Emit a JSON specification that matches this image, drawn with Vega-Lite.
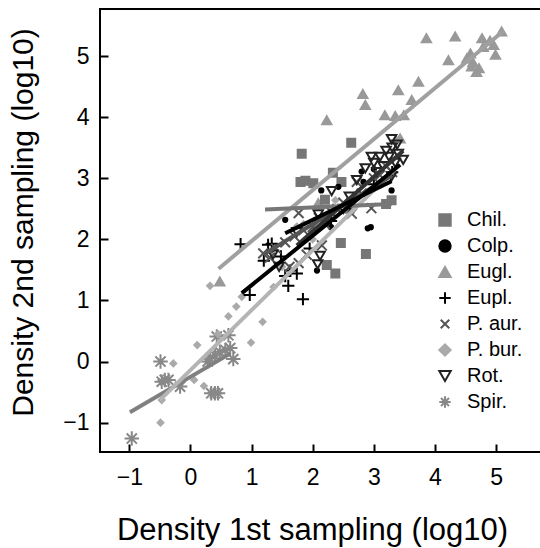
{
  "$schema": "https://vega.github.io/schema/vega-lite/v6.json",
  "autosize": "none",
  "width": 445,
  "height": 443,
  "padding": {"left": 100, "top": 9, "right": 0, "bottom": 96},
  "background": "white",
  "datasets": {
    "pts": [
      {"sp": "Spir.", "x": -0.96, "y": -1.26},
      {"sp": "Spir.", "x": -0.49, "y": 0.0},
      {"sp": "Spir.", "x": -0.47, "y": -0.33},
      {"sp": "Spir.", "x": -0.42, "y": -0.3},
      {"sp": "Spir.", "x": -0.36, "y": -0.3},
      {"sp": "Spir.", "x": -0.17, "y": -0.41},
      {"sp": "Spir.", "x": 0.34, "y": -0.52},
      {"sp": "Spir.", "x": 0.4, "y": -0.52},
      {"sp": "Spir.", "x": 0.45, "y": -0.52},
      {"sp": "Spir.", "x": 0.43, "y": 0.41},
      {"sp": "Spir.", "x": 0.62, "y": 0.43},
      {"sp": "Spir.", "x": 0.7, "y": 0.04},
      {"sp": "Spir.", "x": 0.32, "y": 0.05},
      {"sp": "Spir.", "x": 0.4, "y": 0.1},
      {"sp": "Spir.", "x": 0.48, "y": 0.16},
      {"sp": "Spir.", "x": 0.57, "y": 0.19},
      {"sp": "Spir.", "x": 0.65, "y": 0.22},
      {"sp": "Spir.", "x": 0.28, "y": 0.0},
      {"sp": "P. bur.", "x": -0.49, "y": -1.0},
      {"sp": "P. bur.", "x": -0.47, "y": -0.63},
      {"sp": "P. bur.", "x": -0.28, "y": -0.03},
      {"sp": "P. bur.", "x": 0.06, "y": -0.3},
      {"sp": "P. bur.", "x": 0.11, "y": 0.27},
      {"sp": "P. bur.", "x": 0.22, "y": -0.4},
      {"sp": "P. bur.", "x": 0.32, "y": 1.24},
      {"sp": "P. bur.", "x": 0.62, "y": 0.74},
      {"sp": "P. bur.", "x": 0.84, "y": 1.06},
      {"sp": "P. bur.", "x": 0.99, "y": 0.31},
      {"sp": "P. bur.", "x": 1.18, "y": 0.65},
      {"sp": "P. bur.", "x": 1.36, "y": 1.22},
      {"sp": "P. bur.", "x": 1.74, "y": 2.21},
      {"sp": "P. bur.", "x": 1.85, "y": 2.25},
      {"sp": "P. bur.", "x": 2.37, "y": 2.64},
      {"sp": "P. bur.", "x": 3.37, "y": 3.63},
      {"sp": "P. bur.", "x": 0.45, "y": 0.45},
      {"sp": "P. bur.", "x": 1.5, "y": 1.55},
      {"sp": "P. bur.", "x": 2.0, "y": 2.0},
      {"sp": "P. bur.", "x": 2.6, "y": 2.55},
      {"sp": "P. bur.", "x": 3.0, "y": 3.0},
      {"sp": "P. bur.", "x": 3.3, "y": 3.3},
      {"sp": "P. bur.", "x": 0.75, "y": 0.9},
      {"sp": "Eugl.", "x": 0.48, "y": 1.31},
      {"sp": "Eugl.", "x": 2.23, "y": 3.95},
      {"sp": "Eugl.", "x": 2.82, "y": 4.38},
      {"sp": "Eugl.", "x": 2.86, "y": 4.2},
      {"sp": "Eugl.", "x": 3.18, "y": 4.03},
      {"sp": "Eugl.", "x": 3.4, "y": 4.44},
      {"sp": "Eugl.", "x": 3.49, "y": 4.03},
      {"sp": "Eugl.", "x": 3.62, "y": 4.28},
      {"sp": "Eugl.", "x": 3.73, "y": 4.58},
      {"sp": "Eugl.", "x": 3.86, "y": 5.29},
      {"sp": "Eugl.", "x": 4.22, "y": 4.93},
      {"sp": "Eugl.", "x": 4.33, "y": 5.32},
      {"sp": "Eugl.", "x": 4.58, "y": 5.04},
      {"sp": "Eugl.", "x": 4.52, "y": 4.96},
      {"sp": "Eugl.", "x": 4.6, "y": 4.83},
      {"sp": "Eugl.", "x": 4.68, "y": 4.74},
      {"sp": "Eugl.", "x": 4.72, "y": 4.8},
      {"sp": "Eugl.", "x": 4.62, "y": 4.9},
      {"sp": "Eugl.", "x": 4.77, "y": 5.29},
      {"sp": "Eugl.", "x": 4.79, "y": 5.15},
      {"sp": "Eugl.", "x": 4.9, "y": 5.25},
      {"sp": "Eugl.", "x": 4.96, "y": 5.18},
      {"sp": "Eugl.", "x": 4.99, "y": 5.02},
      {"sp": "Eugl.", "x": 5.09, "y": 5.4},
      {"sp": "Eugl.", "x": 2.09, "y": 2.59},
      {"sp": "Eugl.", "x": 3.43, "y": 3.65},
      {"sp": "Eugl.", "x": 3.35, "y": 4.02},
      {"sp": "Chil.", "x": 1.82, "y": 3.4},
      {"sp": "Chil.", "x": 2.63, "y": 3.58},
      {"sp": "Chil.", "x": 1.8, "y": 2.94},
      {"sp": "Chil.", "x": 1.88, "y": 2.96},
      {"sp": "Chil.", "x": 2.01, "y": 2.92},
      {"sp": "Chil.", "x": 2.33, "y": 3.09},
      {"sp": "Chil.", "x": 2.47, "y": 2.94},
      {"sp": "Chil.", "x": 2.2, "y": 2.65},
      {"sp": "Chil.", "x": 3.29, "y": 2.64},
      {"sp": "Chil.", "x": 2.46, "y": 1.94},
      {"sp": "Chil.", "x": 2.87, "y": 1.76},
      {"sp": "Chil.", "x": 2.23, "y": 1.58},
      {"sp": "Chil.", "x": 2.37, "y": 1.44},
      {"sp": "Chil.", "x": 2.6, "y": 2.5},
      {"sp": "Chil.", "x": 3.2, "y": 2.58},
      {"sp": "Colp.", "x": 1.55, "y": 2.32},
      {"sp": "Colp.", "x": 2.14, "y": 2.8},
      {"sp": "Colp.", "x": 2.42, "y": 2.86},
      {"sp": "Colp.", "x": 3.29, "y": 2.8},
      {"sp": "Colp.", "x": 2.9, "y": 2.18},
      {"sp": "Colp.", "x": 2.95, "y": 2.2},
      {"sp": "Colp.", "x": 2.07, "y": 1.49},
      {"sp": "Colp.", "x": 2.83, "y": 2.94},
      {"sp": "Colp.", "x": 2.8, "y": 3.11},
      {"sp": "Colp.", "x": 2.6, "y": 2.55},
      {"sp": "Colp.", "x": 3.0, "y": 3.15},
      {"sp": "Colp.", "x": 2.3, "y": 2.2},
      {"sp": "Colp.", "x": 3.25, "y": 3.05},
      {"sp": "Eupl.", "x": 0.82, "y": 1.92},
      {"sp": "Eupl.", "x": 1.27, "y": 1.91},
      {"sp": "Eupl.", "x": 1.33, "y": 1.93},
      {"sp": "Eupl.", "x": 0.97, "y": 1.09},
      {"sp": "Eupl.", "x": 1.63, "y": 1.49},
      {"sp": "Eupl.", "x": 1.6, "y": 1.24},
      {"sp": "Eupl.", "x": 1.84, "y": 1.02},
      {"sp": "Eupl.", "x": 1.74, "y": 1.44},
      {"sp": "Eupl.", "x": 1.55, "y": 1.4},
      {"sp": "Eupl.", "x": 1.48, "y": 1.72},
      {"sp": "Eupl.", "x": 1.95, "y": 1.85},
      {"sp": "Eupl.", "x": 2.3, "y": 2.3},
      {"sp": "Eupl.", "x": 2.6, "y": 2.55},
      {"sp": "Eupl.", "x": 3.0, "y": 2.9},
      {"sp": "Eupl.", "x": 3.3, "y": 3.1},
      {"sp": "Eupl.", "x": 1.2, "y": 1.65},
      {"sp": "P. aur.", "x": 1.19, "y": 1.77},
      {"sp": "P. aur.", "x": 1.3, "y": 1.7},
      {"sp": "P. aur.", "x": 1.4, "y": 1.85},
      {"sp": "P. aur.", "x": 1.55, "y": 1.95},
      {"sp": "P. aur.", "x": 1.77, "y": 2.43},
      {"sp": "P. aur.", "x": 1.7, "y": 2.05},
      {"sp": "P. aur.", "x": 1.85, "y": 2.15},
      {"sp": "P. aur.", "x": 2.0, "y": 2.2},
      {"sp": "P. aur.", "x": 2.1, "y": 2.35},
      {"sp": "P. aur.", "x": 2.2, "y": 2.25},
      {"sp": "P. aur.", "x": 2.3, "y": 2.45},
      {"sp": "P. aur.", "x": 2.4, "y": 2.5},
      {"sp": "P. aur.", "x": 2.5, "y": 2.6},
      {"sp": "P. aur.", "x": 2.64, "y": 2.42},
      {"sp": "P. aur.", "x": 2.72, "y": 2.94},
      {"sp": "P. aur.", "x": 2.8, "y": 2.75},
      {"sp": "P. aur.", "x": 2.96, "y": 2.51},
      {"sp": "P. aur.", "x": 3.0, "y": 3.0},
      {"sp": "P. aur.", "x": 3.1, "y": 3.05},
      {"sp": "P. aur.", "x": 3.2, "y": 3.2},
      {"sp": "P. aur.", "x": 3.3, "y": 3.1},
      {"sp": "P. aur.", "x": 1.9, "y": 1.75},
      {"sp": "P. aur.", "x": 2.15, "y": 1.9},
      {"sp": "P. aur.", "x": 1.77, "y": 1.61},
      {"sp": "P. aur.", "x": 1.62, "y": 1.55},
      {"sp": "Rot.", "x": 3.29, "y": 3.64},
      {"sp": "Rot.", "x": 2.96, "y": 3.35},
      {"sp": "Rot.", "x": 2.86, "y": 3.16},
      {"sp": "Rot.", "x": 3.29, "y": 3.03},
      {"sp": "Rot.", "x": 2.31, "y": 2.79},
      {"sp": "Rot.", "x": 2.09, "y": 2.41},
      {"sp": "Rot.", "x": 2.12, "y": 1.73},
      {"sp": "Rot.", "x": 2.08, "y": 1.59},
      {"sp": "Rot.", "x": 1.74, "y": 2.12},
      {"sp": "Rot.", "x": 2.72, "y": 2.97},
      {"sp": "Rot.", "x": 3.48, "y": 3.3},
      {"sp": "Rot.", "x": 3.1, "y": 3.35},
      {"sp": "Rot.", "x": 3.2, "y": 3.45},
      {"sp": "Rot.", "x": 3.3, "y": 3.5},
      {"sp": "Rot.", "x": 3.4, "y": 3.4},
      {"sp": "Rot.", "x": 3.15, "y": 3.2},
      {"sp": "Rot.", "x": 3.35, "y": 3.25},
      {"sp": "Rot.", "x": 3.05, "y": 3.1},
      {"sp": "Rot.", "x": 3.25, "y": 3.35},
      {"sp": "Rot.", "x": 3.38, "y": 3.55},
      {"sp": "Rot.", "x": 1.35, "y": 1.75},
      {"sp": "Rot.", "x": 1.45, "y": 1.55},
      {"sp": "Rot.", "x": 2.5, "y": 2.5},
      {"sp": "Rot.", "x": 2.6, "y": 2.7},
      {"sp": "Rot.", "x": 3.0, "y": 3.25}
    ],
    "lines": [
      {"sp": "Spir.", "x": -0.99, "y": -0.83},
      {"sp": "Spir.", "x": 0.65, "y": 0.13},
      {"sp": "P. bur.", "x": -0.5, "y": -0.63},
      {"sp": "P. bur.", "x": 3.35, "y": 3.15},
      {"sp": "Eugl.", "x": 0.46, "y": 1.52},
      {"sp": "Eugl.", "x": 5.12, "y": 5.41},
      {"sp": "Chil.", "x": 1.22, "y": 2.49},
      {"sp": "Chil.", "x": 3.29, "y": 2.58},
      {"sp": "P. aur.", "x": 1.19, "y": 1.75},
      {"sp": "P. aur.", "x": 3.3, "y": 3.05},
      {"sp": "Rot.", "x": 1.74, "y": 1.9},
      {"sp": "Rot.", "x": 3.48, "y": 3.45},
      {"sp": "Colp.", "x": 1.55, "y": 2.1},
      {"sp": "Colp.", "x": 3.29, "y": 2.95},
      {"sp": "Eupl.", "x": 0.84, "y": 1.12},
      {"sp": "Eupl.", "x": 3.43, "y": 3.22}
    ]
  },
  "layer": [
    {
      "data": {"name": "pts"},
      "mark": {"type": "point", "strokeWidth": 2, "opacity": 1},
      "encoding": {
        "x": {"field": "x", "type": "quantitative", "scale": {"domain": [-1.48, 5.8], "nice": false, "zero": false},
              "axis": {"values": [-1, 0, 1, 2, 3, 4, 5], "format": "d", "title": "Density 1st sampling (log10)", "titleFontSize": 31, "tickSize": -8, "labelPadding": 22, "titleX": 212, "titleY": 87, "titleBaseline": "alphabetic", "titleAlign": "center"}},
        "y": {"field": "y", "type": "quantitative", "scale": {"domain": [-1.48, 5.77], "nice": false, "zero": false},
              "axis": {"values": [-1, 0, 1, 2, 3, 4, 5], "format": "d", "title": "Density 2nd sampling (log10)", "tickSize": -8, "labelPadding": 19, "titleX": -68, "titleY": 213, "titleAngle": -90, "titleBaseline": "alphabetic", "titleAlign": "center"}},
        "shape": {"field": "sp", "type": "nominal", "scale": {"domain": ["Chil.", "Colp.", "Eugl.", "Eupl.", "P. aur.", "P. bur.", "Rot.", "Spir."],
          "range": ["square", "circle", "triangle-up", "M-1,0H1M0,-1V1", "M-0.75,-0.75L0.75,0.75M-0.75,0.75L0.75,-0.75", "diamond", "triangle-down", "M-1,0H1M0,-1V1M-0.7,-0.7L0.7,0.7M-0.7,0.7L0.7,-0.7"]},
          "legend": {"title": null, "orient": "none", "legendX": 335, "legendY": 201}},
        "stroke": {"field": "sp", "type": "nominal", "scale": {"domain": ["Chil.", "Colp.", "Eugl.", "Eupl.", "P. aur.", "P. bur.", "Rot.", "Spir."],
          "range": ["#777777", "#000000", "#999999", "#000000", "#555555", "#aaaaaa", "#222222", "#888888"]},
          "legend": {"title": null, "orient": "none", "legendX": 335, "legendY": 201}},
        "fill": {"field": "sp", "type": "nominal", "scale": {"domain": ["Chil.", "Colp.", "Eugl.", "Eupl.", "P. aur.", "P. bur.", "Rot.", "Spir."],
          "range": ["#777777", "#000000", "#999999", "transparent", "transparent", "#aaaaaa", "transparent", "transparent"]},
          "legend": {"title": null, "orient": "none", "legendX": 335, "legendY": 201}},
        "size": {"field": "sp", "type": "nominal", "scale": {"type": "ordinal", "range": [64, 18, 85, 150, 170, 34, 90, 210]}, "legend": null}
      }
    },
    {
      "data": {"name": "lines"},
      "mark": {"type": "line", "strokeWidth": 4, "strokeCap": "butt"},
      "encoding": {
        "x": {"field": "x", "type": "quantitative"},
        "y": {"field": "y", "type": "quantitative"},
        "detail": {"field": "sp", "type": "nominal"},
        "color": {"field": "sp", "type": "nominal", "scale": {"range": ["#777777", "#000000", "#a0a0a0", "#000000", "#555555", "#b4b4b4", "#333333", "#808080"]}, "legend": null}
      }
    }
  ],
  "config": {
    "view": {"stroke": "black", "strokeWidth": 2},
    "axis": {"domain": false, "grid": false, "ticks": true, "tickColor": "black", "tickWidth": 2,
             "labelFont": "Liberation Sans", "labelFontSize": 23, "labelColor": "black", "labelFlush": false, "labelOverlap": false,
             "titleFont": "Liberation Sans", "titleFontSize": 30, "titleFontWeight": "normal", "titleColor": "black"},
    "legend": {"labelFont": "Liberation Sans", "labelFontSize": 20, "labelColor": "black",
               "symbolSize": 130, "symbolStrokeWidth": 2, "rowPadding": 6, "labelOffset": 12}
  }
}
